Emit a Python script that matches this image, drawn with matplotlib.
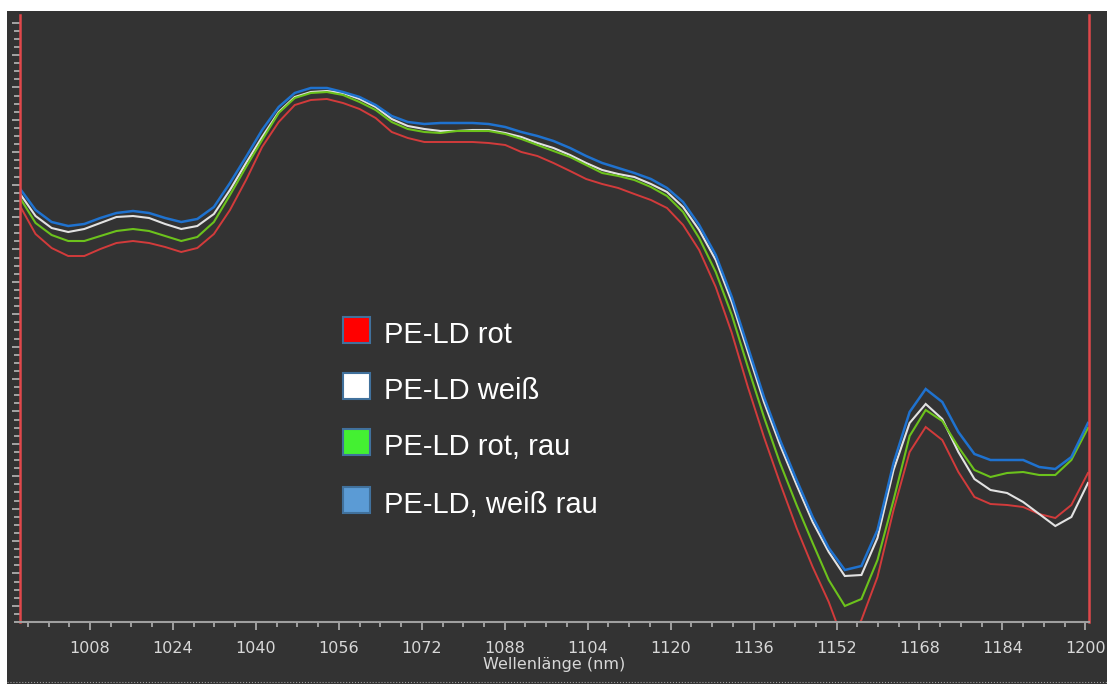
"""NIR-Spektren PE-LD (rot / weiß, glatt / rau)."""
import matplotlib
matplotlib.use("Agg")
import matplotlib.pyplot as plt
from matplotlib.patches import Rectangle
from matplotlib.lines import Line2D
from matplotlib.ticker import MultipleLocator

# Wellenlänge (nm), Abtastpunkte des Spektrometers
wellenlaenge = [994.4, 997.5, 1000.6, 1003.8, 1006.9, 1010.0, 1013.1, 1016.3, 1019.4, 1022.5,
                1025.6, 1028.7, 1031.9, 1035.0, 1038.1, 1041.2, 1044.4, 1047.5, 1050.6, 1053.7,
                1056.8, 1060.0, 1063.1, 1066.2, 1069.3, 1072.5, 1075.6, 1078.7, 1081.8, 1084.9,
                1088.1, 1091.2, 1094.3, 1097.4, 1100.6, 1103.7, 1106.8, 1109.9, 1113.0, 1116.2,
                1119.3, 1122.4, 1125.5, 1128.7, 1131.8, 1134.9, 1138.0, 1141.1, 1144.3, 1147.4,
                1150.5, 1153.6, 1156.8, 1159.9, 1163.0, 1166.1, 1169.2, 1172.4, 1175.5, 1178.6,
                1181.7, 1184.9, 1188.0, 1191.1, 1194.2, 1197.3, 1200.5]

# Messwerte (willkürliche Einheiten, aus dem Bild geschätzt)
rot = [0.417, 0.388, 0.374, 0.366, 0.366, 0.373, 0.379, 0.381, 0.379, 0.375,
       0.370, 0.374, 0.388, 0.412, 0.442, 0.475, 0.500, 0.517, 0.522, 0.523,
       0.519, 0.513, 0.504, 0.490, 0.484, 0.480, 0.480, 0.480, 0.480, 0.479,
       0.477, 0.470, 0.466, 0.459, 0.451, 0.443, 0.438, 0.434, 0.428, 0.422,
       0.414, 0.397, 0.372, 0.335, 0.289, 0.235, 0.185, 0.139, 0.094, 0.055,
       0.020, -0.023, 0.002, 0.045, 0.112, 0.170, 0.195, 0.182, 0.150, 0.125,
       0.118, 0.117, 0.115, 0.108, 0.104, 0.117, 0.149]

weiss = [0.429, 0.406, 0.394, 0.390, 0.393, 0.399, 0.405, 0.406, 0.404, 0.398,
         0.393, 0.396, 0.408, 0.432, 0.459, 0.485, 0.510, 0.525, 0.530, 0.531,
         0.529, 0.523, 0.515, 0.503, 0.496, 0.493, 0.491, 0.491, 0.492, 0.492,
         0.489, 0.485, 0.479, 0.474, 0.467, 0.459, 0.452, 0.448, 0.445, 0.438,
         0.430, 0.415, 0.392, 0.362, 0.320, 0.270, 0.220, 0.177, 0.137, 0.100,
         0.070, 0.046, 0.047, 0.084, 0.152, 0.199, 0.218, 0.203, 0.170, 0.143,
         0.132, 0.129, 0.120, 0.108, 0.096, 0.105, 0.139]

rot_rau = [0.425, 0.399, 0.387, 0.381, 0.381, 0.386, 0.391, 0.393, 0.391, 0.386,
           0.381, 0.385, 0.400, 0.427, 0.455, 0.482, 0.509, 0.524, 0.529, 0.530,
           0.527, 0.520, 0.512, 0.500, 0.493, 0.490, 0.489, 0.491, 0.491, 0.491,
           0.488, 0.483, 0.477, 0.471, 0.465, 0.457, 0.449, 0.446, 0.442, 0.435,
           0.426, 0.410, 0.384, 0.350, 0.307, 0.255, 0.205, 0.159, 0.117, 0.079,
           0.042, 0.016, 0.023, 0.062, 0.122, 0.186, 0.212, 0.201, 0.175, 0.152,
           0.145, 0.149, 0.150, 0.147, 0.147, 0.162, 0.194]

weiss_rau = [0.434, 0.412, 0.400, 0.396, 0.398, 0.404, 0.409, 0.411, 0.409, 0.404,
             0.400, 0.403, 0.415, 0.439, 0.465, 0.492, 0.515, 0.529, 0.534, 0.534,
             0.530, 0.525, 0.517, 0.506, 0.500, 0.498, 0.499, 0.499, 0.499, 0.498,
             0.495, 0.490, 0.486, 0.481, 0.474, 0.466, 0.459, 0.454, 0.449, 0.443,
             0.434, 0.420, 0.397, 0.367, 0.325, 0.275, 0.225, 0.182, 0.142, 0.105,
             0.074, 0.052, 0.056, 0.092, 0.159, 0.210, 0.233, 0.220, 0.190, 0.168,
             0.162, 0.162, 0.162, 0.155, 0.153, 0.165, 0.199]

labels = ["PE-LD rot", "PE-LD weiß", "PE-LD rot, rau", "PE-LD, weiß rau"]
line_colors = ["#d23b3b", "#e2e2e2", "#6cc21c", "#1f72cf"]
patch_colors = ["#ff0000", "#ffffff", "#44f032", "#5b9bd5"]

W, H = 1107, 684
bg = "#333333"

fig = plt.figure(figsize=(W / 100, H / 100), dpi=100, facecolor="white")
fig.add_artist(Rectangle((7 / W, 0), 1 - 7 / W, 1 - 11 / H, transform=fig.transFigure,
                         facecolor=bg, edgecolor="none", zorder=-10))
fig.add_artist(Line2D([7 / W, 1], [2.5 / H, 2.5 / H], transform=fig.transFigure,
                      color="#9a9a9a", lw=0.8, ls=":", zorder=-5))

ax = fig.add_axes([20 / W, 62 / H, 1069 / W, 607 / H])
ax.set_facecolor(bg)

for ys, c, lw in zip([rot, weiss, rot_rau, weiss_rau], line_colors, [1.4, 1.5, 1.5, 1.8]):
    ax.plot(wellenlaenge, ys, color=c, lw=lw, solid_joinstyle="miter")

ax.set_xlim(994.5, 1200.7)
ax.set_ylim(0, 0.607)

ax.xaxis.set_major_locator(MultipleLocator(16))
ax.xaxis.set_minor_locator(MultipleLocator(4))
ax.yaxis.set_major_locator(MultipleLocator(0.0324, offset=0.0162))
ax.yaxis.set_minor_locator(MultipleLocator(0.0081))

ax.spines["top"].set_visible(False)
for side in ["left", "right"]:
    ax.spines[side].set_color("#e0474a")
    ax.spines[side].set_linewidth(1.8)
ax.spines["bottom"].set_color("#a0a0a0")
ax.spines["bottom"].set_linewidth(1.5)

ax.tick_params(axis="x", which="major", direction="out", length=6, width=1.4,
               color="#a0a0a0", labelcolor="#d8d8d8", labelsize=11.5, pad=7.5)
ax.tick_params(axis="x", which="minor", direction="out", length=3.5, width=1.4,
               color="#a0a0a0")
ax.tick_params(axis="y", which="major", direction="out", length=5.5, width=1.2,
               color="#b8b8b8", labelleft=False)
ax.tick_params(axis="y", which="minor", direction="out", length=4, width=1.2,
               color="#b8b8b8")

ax.set_xlabel("Wellenlänge (nm)", color="#d8d8d8", fontsize=11.5, labelpad=1)

# Legende (manuell, wie im Original)
row_bottom = [343, 399, 455, 513]
for lab, pc, yb in zip(labels, patch_colors, row_bottom):
    fig.add_artist(Rectangle((343 / W, 1 - yb / H), 27 / W, 26 / H, transform=fig.transFigure,
                             facecolor=pc, edgecolor="#41719c", lw=1.5))
    fig.text(384 / W, 1 - yb / H, lab, color="white", fontsize=21,
             family="Liberation Sans", va="baseline", ha="left")

plt.savefig("out.png", dpi=100, facecolor="white")
print("Saved: out.png")
